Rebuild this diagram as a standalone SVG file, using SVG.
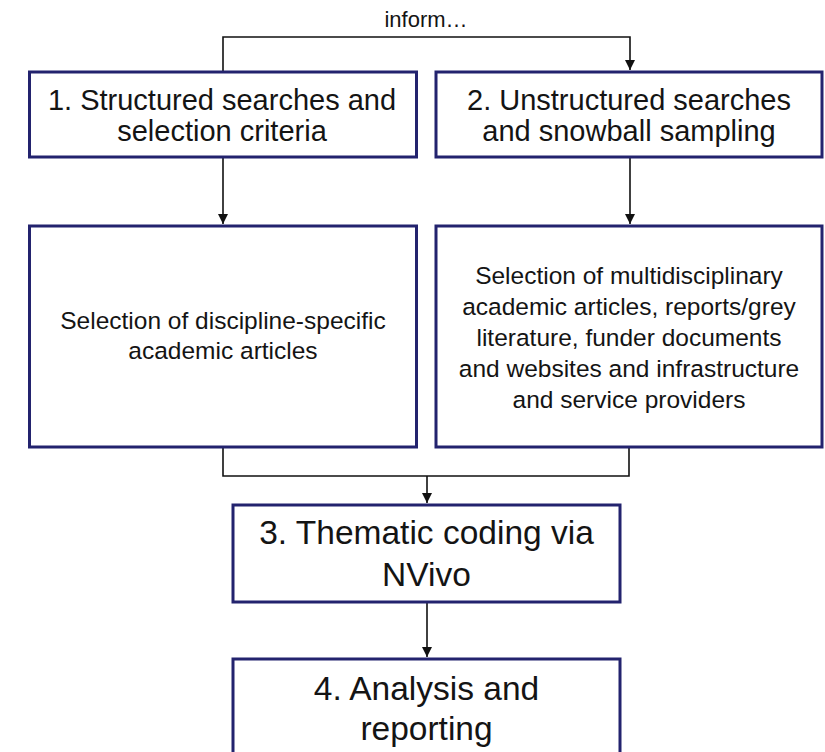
<svg xmlns="http://www.w3.org/2000/svg" width="825" height="752" viewBox="0 0 825 752">
<defs>
<style>
.box{fill:#fff;stroke:#23236e;stroke-width:3}
.t{font-family:"Liberation Sans",Arial,sans-serif;fill:#141414;text-anchor:middle}
.h{font-size:29px}
.b{font-size:24.5px}
.c{font-size:33.5px}
.con{fill:none;stroke:#111;stroke-width:1.6}
</style>
<marker id="ah" viewBox="0 0 10 10" refX="10" refY="5" markerWidth="10" markerHeight="10" markerUnits="userSpaceOnUse" orient="auto">
<path d="M0,0 L10,5 L0,10 z" fill="#111"/>
</marker>
</defs>
<rect width="825" height="752" fill="#fff"/>
<g id="connectors">
<path class="con" d="M223 72 V37 H630 V70" marker-end="url(#ah)"/>
<path class="con" d="M223 157 V224" marker-end="url(#ah)"/>
<path class="con" d="M630 157 V224" marker-end="url(#ah)"/>
<path class="con" d="M223 447 V476 H629 V447"/>
<path class="con" d="M427 476 V503" marker-end="url(#ah)"/>
<path class="con" d="M427 602 V657" marker-end="url(#ah)"/>
</g>
<g id="label-inform"><text class="t" x="426" y="26.5" font-size="22">inform…</text></g>
<g id="node1">
<rect class="box" x="29.5" y="72" width="387" height="85"/>
<text class="t h" x="222" y="110">1. Structured searches and</text>
<text class="t h" x="222" y="141">selection criteria</text>
</g>
<g id="node2">
<rect class="box" x="436" y="72" width="386" height="85"/>
<text class="t h" x="629" y="110">2. Unstructured searches</text>
<text class="t h" x="629" y="141">and snowball sampling</text>
</g>
<g id="node1b">
<rect class="box" x="29.5" y="226" width="387" height="221"/>
<text class="t b" x="223" y="329">Selection of discipline-specific</text>
<text class="t b" x="223" y="358.5">academic articles</text>
</g>
<g id="node2b">
<rect class="box" x="436" y="226" width="386" height="221"/>
<text class="t b" x="629" y="284">Selection of multidisciplinary</text>
<text class="t b" x="629" y="315">academic articles, reports/grey</text>
<text class="t b" x="629" y="346">literature, funder documents</text>
<text class="t b" x="629" y="377">and websites and infrastructure</text>
<text class="t b" x="629" y="407.5">and service providers</text>
</g>
<g id="node3">
<rect class="box" x="233" y="505" width="387" height="97"/>
<text class="t c" x="426.5" y="544">3. Thematic coding via</text>
<text class="t c" x="426.5" y="586">NVivo</text>
</g>
<g id="node4">
<rect class="box" x="233" y="659" width="387" height="110"/>
<text class="t c" x="426.5" y="700">4. Analysis and</text>
<text class="t c" x="426.5" y="740">reporting</text>
</g>
</svg>
